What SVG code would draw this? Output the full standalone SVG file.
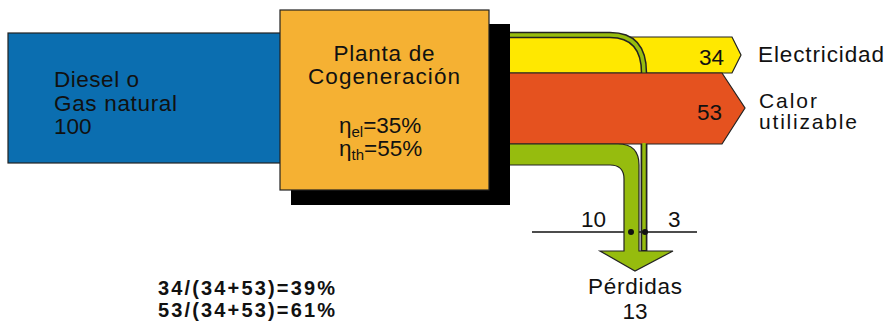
<svg xmlns="http://www.w3.org/2000/svg" width="889" height="324" viewBox="0 0 889 324">
<style>
text{font-family:"Liberation Sans",Arial,sans-serif;font-size:22.5px;fill:#111}
.b{font-weight:bold;font-size:20px}
.s{font-size:21px}
.o{stroke:#222;stroke-width:1.2}
</style>
<rect width="889" height="324" fill="#fff"/>
<g id="source">
<rect class="o" x="8" y="33" width="280" height="130" fill="#0B6EB0"/>
<text x="54" y="87" textLength="85">Diesel o</text>
<text x="54" y="111" textLength="123">Gas natural</text>
<text x="54" y="134">100</text>
</g>
<g id="flows">
<path class="o" d="M505 37H732L741 55L732 73H505Z" fill="#FFE800"/>
<path d="M505 35H610Q644 35 644 73V251" fill="none" stroke="#222" stroke-width="6.5"/>
<path d="M505 35H610Q644 35 644 73V251" fill="none" stroke="#96BC0E" stroke-width="3.5"/>
<path class="o" d="M505 73H722L745 108L722 144H505Z" fill="#E5521F"/>
<line x1="532" y1="232" x2="697" y2="232" stroke="#111" stroke-width="1.3"/>
<path class="o" d="M505 144H618Q639 144 639 165V251H673L635 271L600 251H624V179Q624 165 610 165H505Z" fill="#96BC0E"/>
<path d="M644 144V251" fill="none" stroke="#222" stroke-width="6.5"/>
<path d="M644 143V250" fill="none" stroke="#96BC0E" stroke-width="3.5"/>
<circle cx="631" cy="232" r="3" fill="#111"/>
<circle cx="645" cy="232" r="3" fill="#111"/>
</g>
<g id="plant">
<rect x="291" y="24" width="219" height="181" fill="#000"/>
<rect class="o" x="280" y="10" width="209" height="180" fill="#F5B133"/>
<text x="384" y="61" text-anchor="middle" textLength="101">Planta de</text>
<text x="384" y="84" text-anchor="middle" textLength="152">Cogeneración</text>
<text x="339" y="133">η<tspan font-size="15" dy="4">el</tspan><tspan dy="-4">=35%</tspan></text>
<text x="339" y="156">η<tspan font-size="15" dy="4">th</tspan><tspan dy="-4">=55%</tspan></text>
</g>
<g id="labels">
<text x="699" y="65">34</text>
<text x="697" y="120">53</text>
<text x="758" y="62" textLength="126">Electricidad</text>
<text class="s" x="759" y="108" textLength="58">Calor</text>
<text class="s" x="759" y="129" textLength="98">utilizable</text>
<text x="581" y="227">10</text>
<text x="668" y="227">3</text>
<text x="635" y="294" text-anchor="middle" textLength="94">Pérdidas</text>
<text x="635" y="319" text-anchor="middle">13</text>
<text class="b" x="158" y="295" textLength="177">34/(34+53)=39%</text>
<text class="b" x="158" y="317" textLength="177">53/(34+53)=61%</text>
</g>
</svg>
